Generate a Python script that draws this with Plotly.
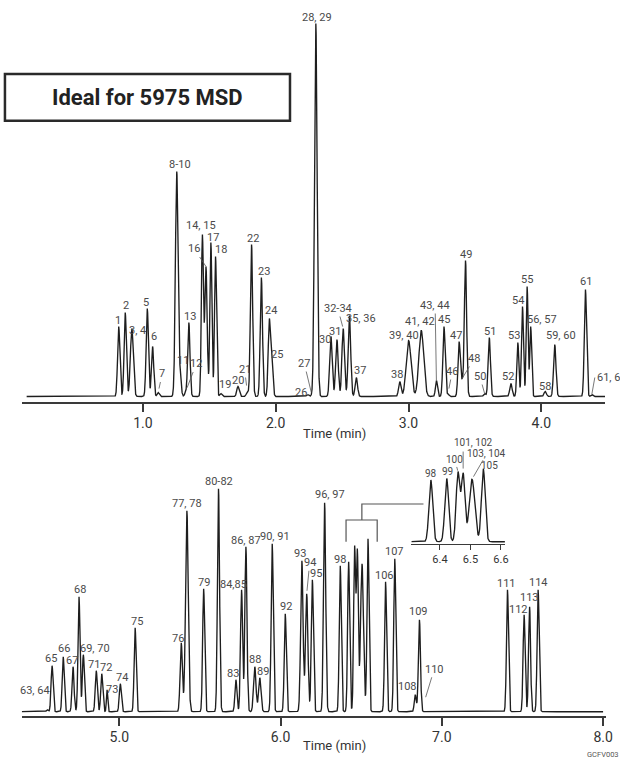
import numpy as np
import plotly.graph_objects as go

# ---------------- upper chromatogram (0.1 - 4.5 min) ----------------
top_labels = ["1", "2", "3, 4", "5", "6", "7", "8-10", "11", "12", "13",
              "14, 15", "16", "17", "18", "19", "20", "21", "22", "23", "24",
              "25", "26", "27", "28, 29", "30", "31", "32-34", "35, 36", "37", "38",
              "39, 40", "41, 42", "43, 44", "45", "46", "47", "48", "49", "50", "51",
              "52", "53", "54", "55", "56, 57", "58", "59, 60", "61", "61, 62"]
top_rt = [0.818, 0.867, 0.917, 1.033, 1.073, 1.115, 1.255, 1.281, 1.322, 1.346,
          1.448, 1.475, 1.512, 1.547, 1.587, 1.716, 1.786, 1.818, 1.892, 1.952,
          1.972, 2.240, 2.270, 2.302, 2.416, 2.461, 2.508, 2.555, 2.607, 2.934,
          3.001, 3.096, 3.210, 3.267, 3.297, 3.381, 3.404, 3.429, 3.573, 3.608,
          3.771, 3.823, 3.858, 3.893, 3.920, 4.029, 4.101, 4.332, 4.380]
top_height = [70, 84, 68, 88, 50, 4, 225, 27, 5, 74,
              162, 130, 154, 140, 3, 10, 5, 152, 119, 78,
              36, 2, 3, 373, 60, 57, 68, 81, 19, 15,
              56, 66, 16, 70, 3, 55, 18, 136, 3, 59,
              13, 54, 90, 110, 70, 5, 52, 107, 2]
top_sigma = [0.0085, 0.0085, 0.011, 0.0085, 0.0085, 0.008, 0.010, 0.008, 0.008, 0.0085,
             0.0075, 0.009, 0.0075, 0.0075, 0.008, 0.009, 0.008, 0.0085, 0.0085, 0.0085,
             0.008, 0.008, 0.008, 0.010, 0.0095, 0.0095, 0.0095, 0.0095, 0.009, 0.009,
             0.018, 0.018, 0.0075, 0.0085, 0.008, 0.0085, 0.008, 0.0085, 0.008, 0.0085,
             0.009, 0.0075, 0.0075, 0.007, 0.007, 0.009, 0.009, 0.0085, 0.008]

# ---------------- lower chromatogram (4.4 - 8.0 min) ----------------
bot_labels = ["63, 64", "65", "66", "67", "68", "69, 70", "71", "72", "73", "74",
              "75", "76", "77, 78", "79", "80-82", "83", "84,85", "86, 87", "88", "89",
              "90, 91", "92", "93", "94", "95", "96, 97", "98", "99", "100", "101, 102",
              "103, 104", "105", "106", "107", "108", "109", "110", "111", "112", "113",
              "114"]
bot_rt = [4.554, 4.583, 4.652, 4.713, 4.750, 4.777, 4.857, 4.891, 4.924, 5.006,
          5.098, 5.384, 5.419, 5.523, 5.615, 5.723, 5.758, 5.785, 5.840, 5.871,
          5.948, 6.029, 6.132, 6.162, 6.197, 6.273, 6.370, 6.422, 6.459, 6.476,
          6.505, 6.542, 6.651, 6.708, 6.835, 6.861, 6.878, 7.407, 7.510, 7.544,
          7.597]
bot_height = [2, 46, 55, 45, 115, 57, 41, 38, 22, 28,
              84, 69, 201, 123, 223, 32, 122, 165, 45, 34,
              168, 98, 151, 118, 132, 209, 146, 150, 166, 163,
              148, 173, 130, 153, 17, 92, 3, 122, 97, 105,
              122]
bot_sigma = [0.006, 0.0062, 0.0062, 0.0062, 0.0062, 0.0062, 0.0062, 0.0062, 0.004, 0.0062,
             0.0062, 0.007, 0.0085, 0.0062, 0.0065, 0.0062, 0.0065, 0.0065, 0.0075, 0.0075,
             0.0065, 0.0062, 0.0075, 0.0075, 0.0065, 0.0068, 0.0062, 0.0062, 0.006, 0.006,
             0.009, 0.0062, 0.0062, 0.0062, 0.006, 0.0065, 0.005, 0.0062, 0.0062, 0.0062,
             0.0062]

top_ticks = [1.0, 2.0, 3.0, 4.0]
bot_ticks = [5.0, 6.0, 7.0, 8.0]
inset_ticks = [6.4, 6.5, 6.6]
inset_labels = ["98", "99", "100", "101, 102", "103, 104", "105"]

W, H = 620, 759
FONT = "Roboto, Liberation Sans, sans-serif"
INK = "#1e1e1e"
LABEL_C = "#4a4a4a"


def px_x(p):
    return p / W


def px_y(p):
    return 1 - p / H


def build_signal(t, rt, height, sigma):
    rt = np.asarray(rt, float)
    h = np.asarray(height, float)
    s = np.asarray(sigma, float)
    # amplitudes solved so the summed trace reaches each listed apex height
    G = np.exp(-0.5 * ((rt[:, None] - rt[None, :]) / s[None, :]) ** 2)
    amp = np.clip(np.linalg.solve(G, h), 0, None)
    return (amp[None, :] * np.exp(-0.5 * ((t[:, None] - rt[None, :]) / s[None, :]) ** 2)).sum(axis=1)


# axis ranges (minutes) and pixel scaling of the panels
top_xr = [0.088, 4.480]
bot_xr = [4.395, 8.0166]
ins_xr = [6.306, 6.613]
top_yr = [-5.5, 390.5]
bot_yr = [-4.3, 271.7]
k_ins = 0.422
ins_yr = [-2.3 / k_ins, (104 - 2.3) / k_ins]

t_top = np.arange(0.125, top_xr[1], 0.0004)
y_top = build_signal(t_top, top_rt, top_height, top_sigma)
t_bot = np.arange(bot_xr[0], 8.0, 0.0004)
y_bot = build_signal(t_bot, bot_rt, bot_height, bot_sigma)
m_ins = (t_bot >= ins_xr[0]) & (t_bot <= ins_xr[1])

fig = go.Figure()
line = dict(color=INK, width=1.35)
fig.add_trace(go.Scatter(x=t_top, y=y_top, mode="lines", line=line, xaxis="x", yaxis="y", hoverinfo="skip"))
fig.add_trace(go.Scatter(x=t_bot, y=y_bot, mode="lines", line=line, xaxis="x2", yaxis="y2", hoverinfo="skip"))
fig.add_trace(go.Scatter(x=t_bot[m_ins], y=y_bot[m_ins], mode="lines", line=line, xaxis="x3", yaxis="y3",
                         hoverinfo="skip"))

axis_style = dict(showline=True, linecolor="#3a3a3a", linewidth=1.5, ticks="outside", tickcolor="#3a3a3a",
                  tickwidth=1.5, showgrid=False, zeroline=False, ticklabelstandoff=-1,
                  tickfont=dict(family=FONT, size=14, color="#333"))

fig.update_layout(
    width=W, height=H, margin=dict(l=0, r=0, t=0, b=0),
    paper_bgcolor="white", plot_bgcolor="rgba(0,0,0,0)", showlegend=False,
    xaxis=dict(domain=[px_x(22), px_x(612)], range=top_xr, anchor="y", ticklen=8,
               tickvals=top_ticks, ticktext=[f"{v:.1f}" for v in top_ticks], **axis_style),
    yaxis=dict(domain=[px_y(402), px_y(6)], range=top_yr, visible=False, anchor="x"),
    xaxis2=dict(domain=[px_x(22), px_x(612.7)], range=bot_xr, anchor="y2", ticklen=8,
                tickvals=bot_ticks, ticktext=[f"{v:.1f}" for v in bot_ticks], **axis_style),
    yaxis2=dict(domain=[px_y(716), px_y(440)], range=bot_yr, visible=False, anchor="x2"),
    xaxis3=dict(domain=[px_x(416), px_x(510.7)], range=ins_xr, anchor="y3", showline=True,
                linecolor="#3a3a3a", linewidth=1.3, ticks="outside", ticklen=5, tickwidth=1.2,
                tickcolor="#3a3a3a", showgrid=False, zeroline=False, tickvals=inset_ticks,
                ticktext=[f"{v:.1f}" for v in inset_ticks],
                tickfont=dict(family=FONT, size=11, color="#333")),
    yaxis3=dict(domain=[px_y(544), px_y(440)], range=ins_yr, visible=False, anchor="x3"),
)

lab_font = dict(family=FONT, size=11, color=LABEL_C)
ins_font = dict(family=FONT, size=10, color=LABEL_C)

# label offsets (px) from each apex: plain labels (dx, dy up) and leader-line labels (ax, ay, standoff)
top_plain = {"1": (-1, 6), "2": (1, 7), "3, 4": (6, -2), "5": (-1, 6), "6": (1, 10), "8-10": (3, 6.5),
             "11": (3, 9), "13": (1, 6.5), "14, 15": (-1.5, 9), "17": (2, 5.5), "18": (5.5, 6.5), "19": (4, 9),
             "20": (0, 5.5), "22": (1, 6), "23": (2.5, 6.5), "24": (2, 8.5), "25": (5.5, 6), "26": (-7, 2),
             "28, 29": (1, 6), "30": (-6, -3), "31": (-1.5, 8), "35, 36": (12, -3), "37": (4, 7),
             "38": (-3, 6.5), "39, 40": (-5, 5), "41, 42": (-1, 9), "45": (0, 6.5), "47": (-3, 5.5),
             "49": (0, 5.5), "51": (1, 6.5), "52": (-2.5, 7), "53": (-4, 6.5), "54": (-4, 6.5),
             "55": (0, 7), "56, 57": (11.5, 7.5), "58": (0, 5), "59, 60": (6, 8.5), "61": (1, 8)}
top_leader = {"7": (4, -18.5, 4), "12": (10.6, -27.5, 4), "16": (-11.6, -17.5, 0), "21": (-2.7, -22, 6),
              "27": (-7.3, -30, 1), "32-34": (-5.3, -20, 2), "43, 44": (-1.3, -75, 0), "46": (4.3, -22, 5),
              "48": (12, -20, 0), "50": (-4.7, -17, 0)}
top_leader_left = {"61, 62": (3, -17, 0)}
bot_plain = {"63, 64": (-12, 19), "65": (-1, 7.5), "66": (1, 8.5), "67": (-1.3, 6), "68": (1, 7.5),
             "69, 70": (11.4, 6.7), "71": (-2.3, 6.4), "72": (4.3, 6.6), "73": (5, 0), "74": (1.6, 6.6),
             "75": (1.6, 6.6), "76": (-3, 4.7), "77, 78": (0, 7), "79": (0, 6.6), "80-82": (0.7, 7.3),
             "83": (-3, 6.7), "84,85": (-8.3, 5.5), "86, 87": (0, 6.7), "88": (0, 7.4), "89": (3.3, 6),
             "90, 91": (3, 7.3), "92": (0.5, 7.6), "93": (-2, 7.4), "95": (3.3, 6), "96, 97": (5, 8.3),
             "98": (-0.6, 6.5), "106": (-1.3, 6.7), "107": (0, 7.3), "108": (-7.3, 8.3), "109": (-1, 8.3),
             "111": (-1, 6.6), "112": (-6, 5), "113": (-0.2, 9), "114": (0, 7.6)}
bot_leader = {"94": (3, -31, 3), "110": (12, -39.4, 12)}
ins_plain = {"98": (0, 7), "99": (0.7, 6.7), "101, 102": (10.6, 30), "105": (6, 3.5)}
ins_leader = {"100": (-3, -11.7, 1), "103, 104": (15, -26, 3)}

annotations = []


def add_labels(labels, rt, t, y, xr, yr, plain, leader, leader_left=None, font=lab_font):
    leader_left = leader_left or {}
    for lbl, r in zip(labels, rt):
        h = float(np.interp(r, t, y))
        if lbl in plain:
            dx, dy = plain[lbl]
            annotations.append(dict(x=r, y=h, xref=xr, yref=yr, text=lbl, showarrow=False, xshift=dx, yshift=dy,
                                    xanchor="center", yanchor="middle", font=font))
        elif lbl in leader or lbl in leader_left:
            ax, ay, so = leader.get(lbl) or leader_left[lbl]
            annotations.append(dict(x=r, y=h, xref=xr, yref=yr, text=lbl, showarrow=True, arrowhead=0,
                                    arrowwidth=0.8, arrowcolor="#555", ax=ax, ay=ay, standoff=so,
                                    xanchor="left" if lbl in leader_left else "center", yanchor="middle",
                                    font=font))


add_labels(top_labels, top_rt, t_top, y_top, "x", "y", top_plain, top_leader, top_leader_left)
add_labels(bot_labels, bot_rt, t_bot, y_bot, "x2", "y2", bot_plain, bot_leader)
ins_idx = [bot_labels.index(l) for l in inset_labels]
add_labels(inset_labels, [bot_rt[i] for i in ins_idx], t_bot[m_ins], y_bot[m_ins], "x3", "y3",
           ins_plain, ins_leader, font=ins_font)

# vertical tick from the "101, 102" label down to its apex
r101 = bot_rt[bot_labels.index("101, 102")]
h101 = float(np.interp(r101, t_bot, y_bot))
annotations.append(dict(x=r101, y=h101, xref="x3", yref="y3", text=" ", showarrow=True, arrowhead=0,
                        arrowwidth=0.8, arrowcolor="#555", ax=0, ay=-23.4, standoff=4.4,
                        font=dict(size=1)))

# axis titles, heading and figure code
paper_text = dict(xref="paper", yref="paper", showarrow=False, xanchor="center", yanchor="middle")
annotations += [
    dict(x=px_x(338), y=px_y(433), text="Time (min)", font=dict(family=FONT, size=13, color="#333"), **paper_text),
    dict(x=px_x(338), y=px_y(745), text="Time (min)", font=dict(family=FONT, size=13, color="#333"), **paper_text),
    dict(x=px_x(149), y=px_y(97.3), text="<b>Ideal for 5975 MSD</b>",
         font=dict(family=FONT, size=22, color="#222"), **paper_text),
    dict(x=px_x(592), y=px_y(754), xref="paper", yref="paper", text="GCFV003", showarrow=False,
         xanchor="left", yanchor="middle", font=dict(family=FONT, size=7.5, color="#555")),
]

shapes = [
    dict(type="rect", xref="paper", yref="paper", x0=px_x(5), x1=px_x(293.3), y0=px_y(120.7), y1=px_y(74),
         line=dict(color="#2a2a2a", width=2.5), fillcolor="white", layer="below"),
]
# bracket linking the crowded region to the expanded view
br = [(350, 541.7), (350, 520), (381.5, 520), (381.5, 541.7)]
path = "M " + " L ".join(f"{px_x(a)},{px_y(b)}" for a, b in br)
shapes.append(dict(type="path", xref="paper", yref="paper", path=path, line=dict(color="#555", width=1.2)))
stem = [(366, 520), (366, 504), (428.3, 504)]
path = "M " + " L ".join(f"{px_x(a)},{px_y(b)}" for a, b in stem)
shapes.append(dict(type="path", xref="paper", yref="paper", path=path, line=dict(color="#555", width=1.2)))

fig.update_layout(annotations=annotations, shapes=shapes)
fig.write_html("out.html")
